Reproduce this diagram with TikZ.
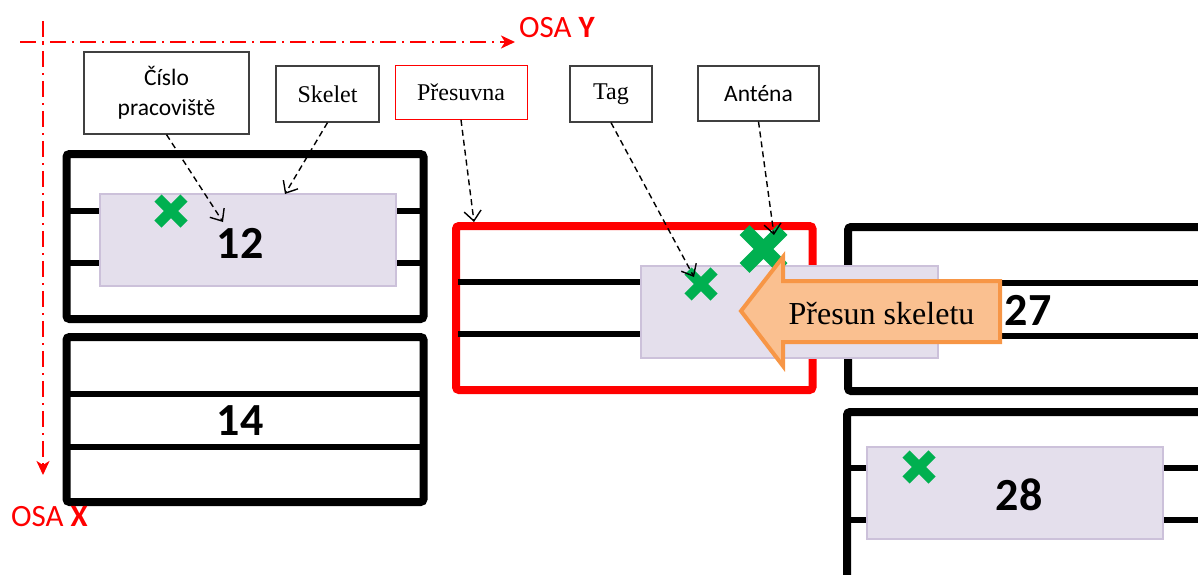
\documentclass[tikz,border=0pt]{standalone}
\usepackage{fontspec}
\setmainfont{Liberation Serif}
\newfontfamily\calibri{Carlito}
\definecolor{skfill}{HTML}{E4DFEC}
\definecolor{skedge}{HTML}{CCC1DA}
\definecolor{tagGreen}{HTML}{00B050}
\definecolor{movefill}{HTML}{FAC090}
\definecolor{moveedge}{HTML}{F79646}
\definecolor{lbledge}{HTML}{404040}
\usetikzlibrary{arrows.meta, shapes.misc}
\tikzset{
	lbl/.style={draw=lbledge, line width=1.2pt, fill=white, align=center,
		inner sep=0pt, font=\fontsize{24}{28}\selectfont},
	ptr/.style={line width=1.4pt, dash pattern=on 6pt off 4pt,
		-{Straight Barb[length=10pt, width=17pt]}},
	osa/.style={red, line width=2pt, dash pattern=on 16pt off 6pt on 2pt off 6pt,
		-{Stealth[length=14pt, width=13pt, inset=4pt]}},
	stframe/.style={line width=8pt, rounded corners=3pt},
	rail/.style={line width=6.5pt},
	skel/.style={fill=skfill, draw=skedge, line width=2pt, inner sep=0pt,
		minimum width=296pt, minimum height=92pt},
	stnum/.style={font=\calibri\bfseries\fontsize{46}{46}\selectfont, inner sep=0pt},
	tagx/.style={cross out, draw=tagGreen, line width=10pt, minimum size=16pt, inner sep=0pt},
	antx/.style={tagx, line width=14pt, minimum size=24pt}
}

\begin{document}
\begin{tikzpicture}[x=1pt, y=-1pt]
	\useasboundingbox (0,0) rectangle (1198,574);
	\clip (0,0) rectangle (1198,574);

	% pracoviste + presuvna
	\draw[stframe] (66.5,154) rectangle (423.5,319);
	\draw[stframe] (66.5,337) rectangle (423.5,502);
	\draw[stframe, red] (456,226) rectangle (812.5,390);
	\draw[stframe] (848,227) rectangle (1215,391);
	\draw[stframe] (847,412) rectangle (1215,600);
	\foreach \y in {211,263} \draw[rail] (66,\y) -- (423,\y);
	\foreach \y in {394,447} \draw[rail] (66,\y) -- (423,\y);
	\foreach \y in {282,334} \draw[rail] (458,\y) -- (810,\y);
	\foreach \y in {283,336} \draw[rail] (848,\y) -- (1215,\y);
	\foreach \y in {468,520} \draw[rail] (847,\y) -- (1215,\y);

	% skelety
	\node[skel] (sk12) at (248,240) {};
	\node[skel, minimum width=297pt] (skmove) at (789.5,312) {};
	\node[skel] (sk28) at (1015,493) {};

	\node[stnum] (n12) at (240,243) {12};
	\node[stnum] (n14) at (240,421) {14};
	\node[stnum] (n27) at (1028,310) {27};
	\node[stnum] (n28) at (1019,495) {28};

	% tagy a antena
	\node[tagx] (tag12) at (171,211) {};
	\node[tagx] (tagmove) at (701,284) {};
	\node[tagx] (tag28) at (919,467) {};
	\node[antx] (ant) at (763.5,249) {};

	% sipka presunu
	\draw[fill=movefill, draw=moveedge, line width=4pt, line join=miter]
		(741,311) -- (783,257) -- (783,281) -- (1000,281) -- (1000,342)
		-- (783,342) -- (783,366) -- cycle;
	\node[font=\fontsize{32}{32}\selectfont] (move) at (881.5,314) {Přesun skeletu};

	% popisky
	\node[lbl, font=\calibri\fontsize{23.5}{30}\selectfont,
		minimum width=165pt, minimum height=82pt] (cislo) at (166.5,93) {Číslo\\pracoviště};
	\node[lbl, minimum width=103pt, minimum height=56pt] (skelet) at (327.5,94) {Skelet};
	\node[lbl, draw=red, line width=0.8pt,
		minimum width=132pt, minimum height=54pt] (presuvna) at (461,92.5) {Přesuvna};
	\node[lbl, minimum width=82pt, minimum height=56pt] (tag) at (611,94) {Tag};
	\node[lbl, font=\calibri\fontsize{23.5}{28}\selectfont,
		minimum width=121pt, minimum height=55pt] (antena) at (758.5,93.5) {Anténa};

	\coordinate (c12) at (223,222);
	\coordinate (ctop) at (285,194);
	\coordinate (cmove) at (474,222);
	\coordinate (ctag) at (694,277);
	\coordinate (cant) at (774,235);
	\draw[ptr] (cislo.south) -- (c12);
	\draw[ptr] (skelet.south) -- (ctop);
	\draw[ptr] (presuvna.south) -- (cmove);
	\draw[ptr] (tag.south) -- (ctag);
	\draw[ptr] (antena.south) -- (cant);

	% osy
	\node[red, anchor=west, inner sep=0pt, font=\calibri\fontsize{31}{31}\selectfont]
		(osay) at (519,28) {OSA \textbf{Y}};
	\node[red, anchor=west, inner sep=0pt, font=\calibri\fontsize{31}{31}\selectfont]
		(osax) at (11,517) {OSA \textbf{X}};
	\coordinate (ys) at (20,42);
	\coordinate (ye) at (515,42);
	\coordinate (xs) at (43,21);
	\coordinate (xe) at (43,475);
	\draw[osa] (ys) -- (ye);
	\draw[osa] (xs) -- (xe);
\end{tikzpicture}
\end{document}
